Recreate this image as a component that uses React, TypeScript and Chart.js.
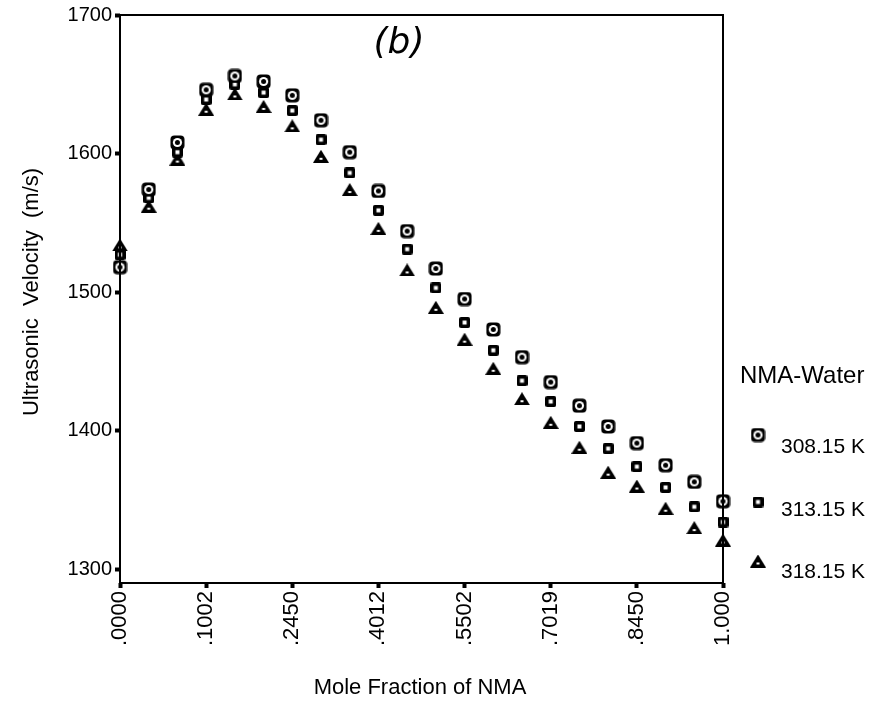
import React, { useEffect, useRef } from 'react';
import { Chart, registerables } from 'chart.js';

Chart.register(...registerables);

// x positions are sample numbers (categorical spacing in the original)
const sampleIndex = [0, 1, 2, 3, 4, 5, 6, 7, 8, 9, 10, 11, 12, 13, 14, 15, 16, 17, 18, 19, 20, 21];
const xTickPositions = [0, 3, 6, 9, 12, 15, 18, 21];
const xTickLabels = ['.0000', '.1002', '.2450', '.4012', '.5502', '.7019', '.8450', '1.000'];
const yTickValues = [1300, 1400, 1500, 1600, 1700];

const seriesNames = ['308.15 K', '313.15 K', '318.15 K'];
const velocity308 = [1518, 1574, 1608, 1646, 1656, 1652, 1642, 1624, 1601, 1573, 1544, 1517, 1495, 1473, 1453, 1435, 1418, 1403, 1391, 1375, 1363, 1349];
const velocity313 = [1527, 1568, 1601, 1639, 1650, 1644, 1631, 1610, 1586, 1559, 1531, 1503, 1478, 1458, 1436, 1421, 1403, 1387, 1374, 1359, 1345, 1334];
const velocity318 = [1534, 1562, 1596, 1632, 1643, 1634, 1620, 1598, 1574, 1546, 1516, 1489, 1466, 1445, 1423, 1406, 1388, 1370, 1360, 1344, 1330, 1321];

function makeCircleBox(): HTMLCanvasElement {
  const c = document.createElement('canvas');
  c.width = 15; c.height = 15;
  const g = c.getContext('2d')!;
  g.fillStyle = '#000';
  g.beginPath();
  (g as any).roundRect(0.5, 0.5, 14, 14, 4);
  g.fill();
  g.fillStyle = '#fff';
  g.beginPath(); g.arc(7.5, 7.5, 4.6, 0, Math.PI * 2); g.fill();
  g.fillStyle = '#000';
  g.beginPath(); g.arc(7.5, 7.5, 2.5, 0, Math.PI * 2); g.fill();
  return c;
}

function makeSquare(): HTMLCanvasElement {
  const c = document.createElement('canvas');
  c.width = 11; c.height = 11;
  const g = c.getContext('2d')!;
  g.fillStyle = '#000';
  g.beginPath();
  (g as any).roundRect(0, 0, 11, 11, 2);
  g.fill();
  g.fillStyle = '#fff';
  g.fillRect(3.5, 3.5, 4, 4);
  return c;
}

function makeTriangle(): HTMLCanvasElement {
  const c = document.createElement('canvas');
  c.width = 16; c.height = 13;
  const g = c.getContext('2d')!;
  g.fillStyle = '#000';
  g.beginPath();
  g.moveTo(8, 0); g.lineTo(16, 13); g.lineTo(0, 13); g.closePath();
  g.fill();
  g.fillStyle = '#fff';
  g.fillRect(6.5, 8, 3, 2);
  return c;
}

export default function App() {
  const ref = useRef<HTMLCanvasElement | null>(null);

  useEffect(() => {
    document.body.style.margin = '0';
    const canvas = ref.current!;
    const styles = [makeCircleBox(), makeSquare(), makeTriangle()];
    const seriesValues = [velocity308, velocity313, velocity318];

    const overlay = {
      id: 'overlay',
      afterDraw(chart: any) {
        const { ctx, chartArea } = chart;
        ctx.save();
        ctx.strokeStyle = '#000';
        ctx.lineWidth = 2;
        ctx.strokeRect(chartArea.left, chartArea.top, chartArea.right - chartArea.left, chartArea.bottom - chartArea.top);
        ctx.fillStyle = '#000';
        // panel label
        ctx.font = 'italic 36px "DejaVu Sans"';
        ctx.textAlign = 'center';
        ctx.textBaseline = 'middle';
        ctx.fillText('(b)', 399, 44);
        // axis titles
        ctx.font = '22px "Liberation Sans"';
        ctx.fillText('Mole Fraction of NMA', 420, 688);
        ctx.save();
        ctx.translate(32, 292);
        ctx.rotate(-Math.PI / 2);
        ctx.fillText('Ultrasonic  Velocity  (m/s)', 0, 0);
        ctx.restore();
        // legend
        ctx.textAlign = 'left';
        ctx.font = '24px "Liberation Sans"';
        ctx.fillText('NMA-Water', 740, 376);
        ctx.font = '21px "Liberation Sans"';
        const rows = [[435, 447], [502, 510], [561, 572]];
        for (let i = 0; i < 3; i++) {
          const s = styles[i];
          ctx.drawImage(s, 758 - s.width / 2, rows[i][0] - s.height / 2);
          ctx.fillText(seriesNames[i], 781, rows[i][1]);
        }
        ctx.restore();
      },
    };

    const chart = new Chart(canvas, {
      type: 'scatter',
      data: {
        datasets: seriesValues.map((vals, i) => ({
          label: seriesNames[i],
          data: sampleIndex.map((x, j) => ({ x, y: vals[j] })),
          pointStyle: styles[i] as any,
          pointRadius: 8,
          showLine: false,
          clip: false as any,
        })),
      },
      options: {
        responsive: false,
        animation: false,
        layout: { padding: { left: 0, right: 169, top: 15, bottom: 0 } },
        plugins: { legend: { display: false }, tooltip: { enabled: false } },
        scales: {
          x: {
            type: 'linear',
            min: 0,
            max: 21,
            afterBuildTicks: (scale: any) => {
              scale.ticks = xTickPositions.map((v) => ({ value: v }));
            },
            afterFit: (scale: any) => { scale.height = 132; },
            ticks: {
              autoSkip: false,
              minRotation: 90,
              maxRotation: 90,
              color: '#000',
              padding: 3,
              font: { family: 'Liberation Sans', size: 22 },
              callback: (v: any) => {
                const k = xTickPositions.indexOf(Number(v));
                return k >= 0 ? xTickLabels[k] : '';
              },
            },
            grid: { drawOnChartArea: false, tickLength: 5, tickWidth: 4, tickColor: '#000', color: '#000' },
            border: { display: false },
          },
          y: {
            type: 'linear',
            min: 1290,
            max: 1700,
            afterBuildTicks: (scale: any) => {
              scale.ticks = yTickValues.map((v) => ({ value: v }));
            },
            afterFit: (scale: any) => { scale.width = 120; },
            ticks: {
              color: '#000',
              padding: 3,
              font: { family: 'Liberation Sans', size: 20 },
              callback: (v: any) => String(v),
            },
            grid: { drawOnChartArea: false, tickLength: 5, tickWidth: 4, tickColor: '#000', color: '#000' },
            border: { display: false },
          },
        },
      },
      plugins: [overlay],
    });
    return () => chart.destroy();
  }, []);

  return (
    <div style={{ width: 892, height: 715, background: '#fff' }}>
      <canvas ref={ref} width={892} height={715} style={{ display: 'block' }} />
    </div>
  );
}
